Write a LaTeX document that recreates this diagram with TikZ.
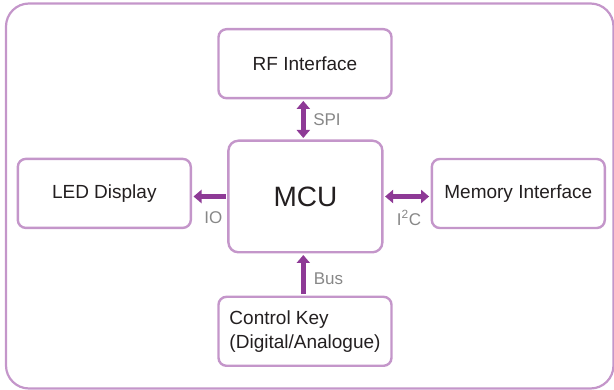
\documentclass[tikz,border=0pt]{standalone}
\usepackage{fontspec}
\setmainfont{Liberation Sans}
\usetikzlibrary{arrows.meta}
\definecolor{boxline}{RGB}{196,150,202}
\definecolor{arrowc}{RGB}{142,58,150}
\definecolor{labelc}{RGB}{135,135,135}
\definecolor{textc}{RGB}{35,31,32}
\tikzset{
  blk/.style={draw=boxline, line width=2.4pt, rounded corners=8pt, fill=white,
    minimum width=173pt, minimum height=69pt, inner sep=0pt, text=textc,
    font=\fontsize{19}{24}\selectfont},
  conn/.style={draw=arrowc, line width=5pt, shorten <=1.5pt, shorten >=1.5pt},
  tip/.style={-{Triangle[width=13pt,length=8pt]}},
  dtip/.style={{Triangle[width=13pt,length=8pt]}-{Triangle[width=13pt,length=8pt]}},
  lbl/.style={text=labelc, font=\fontsize{17}{20}\selectfont, inner sep=0pt}
}
\begin{document}
\begin{tikzpicture}[x=1pt,y=-1pt]
\useasboundingbox (0,0) rectangle (614,390);
\draw[draw=boxline, line width=2.2pt, rounded corners=23pt] (6,3.5) rectangle (613.5,388.5);

\node[blk] (rf) at (305,63.7) {RF Interface};
\node[blk, minimum width=154pt, minimum height=111.6pt, rounded corners=10pt,
  font=\fontsize{28}{32}\selectfont] (mcu) at (305.4,196.5) {MCU};
\node[blk] (led) at (104.3,193.4) {LED Display};
\node[blk] (mem) at (518.3,193.5) {Memory Interface};
\node[blk, align=left] (key) at (305,331.3) {Control Key\\(Digital/Analogue)};

\draw[conn, dtip] (rf.south -| 303.3,0) -- (mcu.north -| 303.3,0);
\draw[conn, tip] (mcu.west) -- (mcu.west -| led.east);
\draw[conn, dtip] (mcu.east) -- (mcu.east -| mem.west);
\draw[conn, tip] (key.north -| 303.3,0) -- (mcu.south -| 303.3,0);

\node[lbl] (spi) at (327,120) {SPI};
\node[lbl] (io) at (213.4,218) {IO};
\node[lbl] (i2c) at (409,218) {I\textsuperscript{2}C};
\node[lbl] (bus) at (328.4,279) {Bus};
\end{tikzpicture}
\end{document}
